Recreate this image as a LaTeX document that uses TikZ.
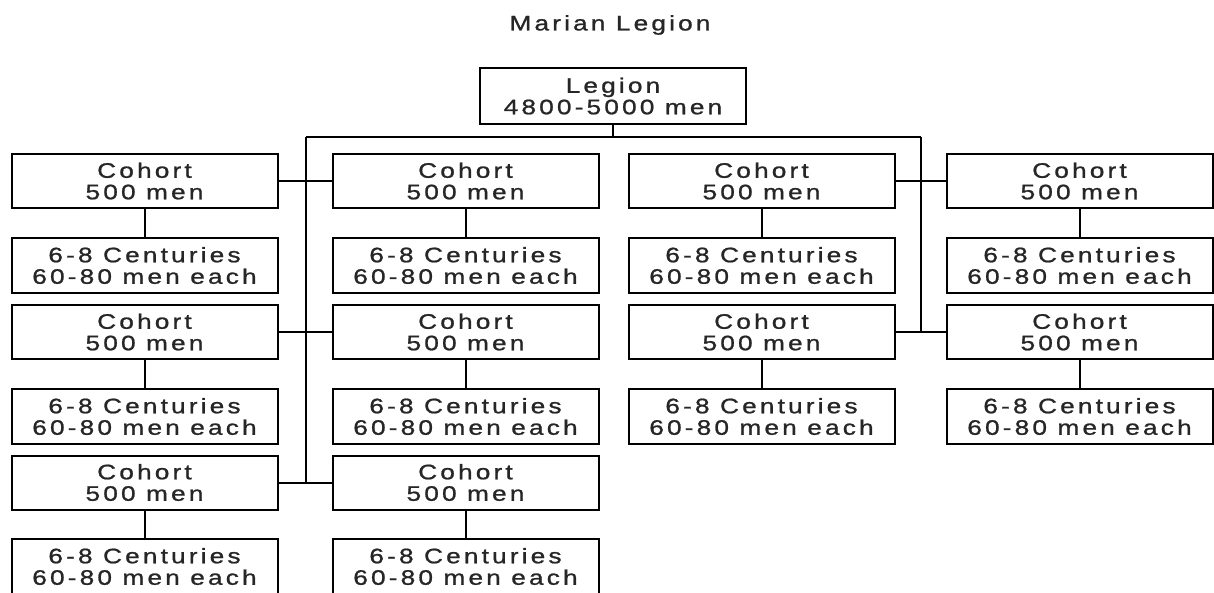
\documentclass[tikz,border=0pt]{standalone}
\usepackage{fontspec}
\setmainfont{Liberation Sans}[FakeStretch=1.25,LetterSpace=15,FakeBold=1]
\begin{document}
\begin{tikzpicture}[x=1pt,y=-1pt,
  every node/.style={font=\fontsize{21}{21.5}\selectfont, text=black!85},
  orgbox/.style={draw=black, line width=2pt, minimum width=266pt, minimum height=54pt, inner sep=0pt, align=center, fill=white},
  centbox/.style={orgbox, minimum height=55pt},
  link/.style={draw=black, line width=2pt}]
\useasboundingbox (0,0) rectangle (1214,592);
\clip (0,0) rectangle (1214,592);
\fill[white] (0,0) rectangle (1214,592);

\node (title) at (610,25) {Marian Legion};
\node[orgbox, minimum height=56pt] (legion) at (613,96) {Legion\\4800-5000 men};

% cohorts
\node[orgbox] (c11) at (144.5,181) {Cohort\\500 men};
\node[orgbox] (c21) at (465.5,181) {Cohort\\500 men};
\node[orgbox] (c31) at (761.5,181) {Cohort\\500 men};
\node[orgbox] (c41) at (1079.5,181) {Cohort\\500 men};
\node[orgbox] (c12) at (144.5,332) {Cohort\\500 men};
\node[orgbox] (c22) at (465.5,332) {Cohort\\500 men};
\node[orgbox] (c32) at (761.5,332) {Cohort\\500 men};
\node[orgbox] (c42) at (1079.5,332) {Cohort\\500 men};
\node[orgbox] (c13) at (144.5,482.5) {Cohort\\500 men};
\node[orgbox] (c23) at (465.5,482.5) {Cohort\\500 men};

% centuries
\node[centbox] (k11) at (144.5,265.5) {6-8 Centuries\\60-80 men each};
\node[centbox] (k21) at (465.5,265.5) {6-8 Centuries\\60-80 men each};
\node[centbox] (k31) at (761.5,265.5) {6-8 Centuries\\60-80 men each};
\node[centbox] (k41) at (1079.5,265.5) {6-8 Centuries\\60-80 men each};
\node[centbox] (k12) at (144.5,416.5) {6-8 Centuries\\60-80 men each};
\node[centbox] (k22) at (465.5,416.5) {6-8 Centuries\\60-80 men each};
\node[centbox] (k32) at (761.5,416.5) {6-8 Centuries\\60-80 men each};
\node[centbox] (k42) at (1079.5,416.5) {6-8 Centuries\\60-80 men each};
\node[centbox] (k13) at (144.5,566.5) {6-8 Centuries\\60-80 men each};
\node[centbox] (k23) at (465.5,566.5) {6-8 Centuries\\60-80 men each};

% bus coordinates
\coordinate (jT) at (613,137);
\coordinate (jL) at (306,137);
\coordinate (jR) at (921,137);

\path[link] (legion.south) -- (jT);
\path[link] (jL) -- (jR);
\path[link] (jL) -- (jL |- c13.east);
\path[link] (jR) -- (jR |- c32.east);

\path[link] (c11.east) -- (c21.west);
\path[link] (c12.east) -- (c22.west);
\path[link] (c13.east) -- (c23.west);
\path[link] (c31.east) -- (c41.west);
\path[link] (c32.east) -- (c42.west);

\foreach \a/\b in {c11/k11,c21/k21,c31/k31,c41/k41,c12/k12,c22/k22,c32/k32,c42/k42,c13/k13,c23/k23}
  \path[link] (\a.south) -- (\b.north);
\end{tikzpicture}
\end{document}
